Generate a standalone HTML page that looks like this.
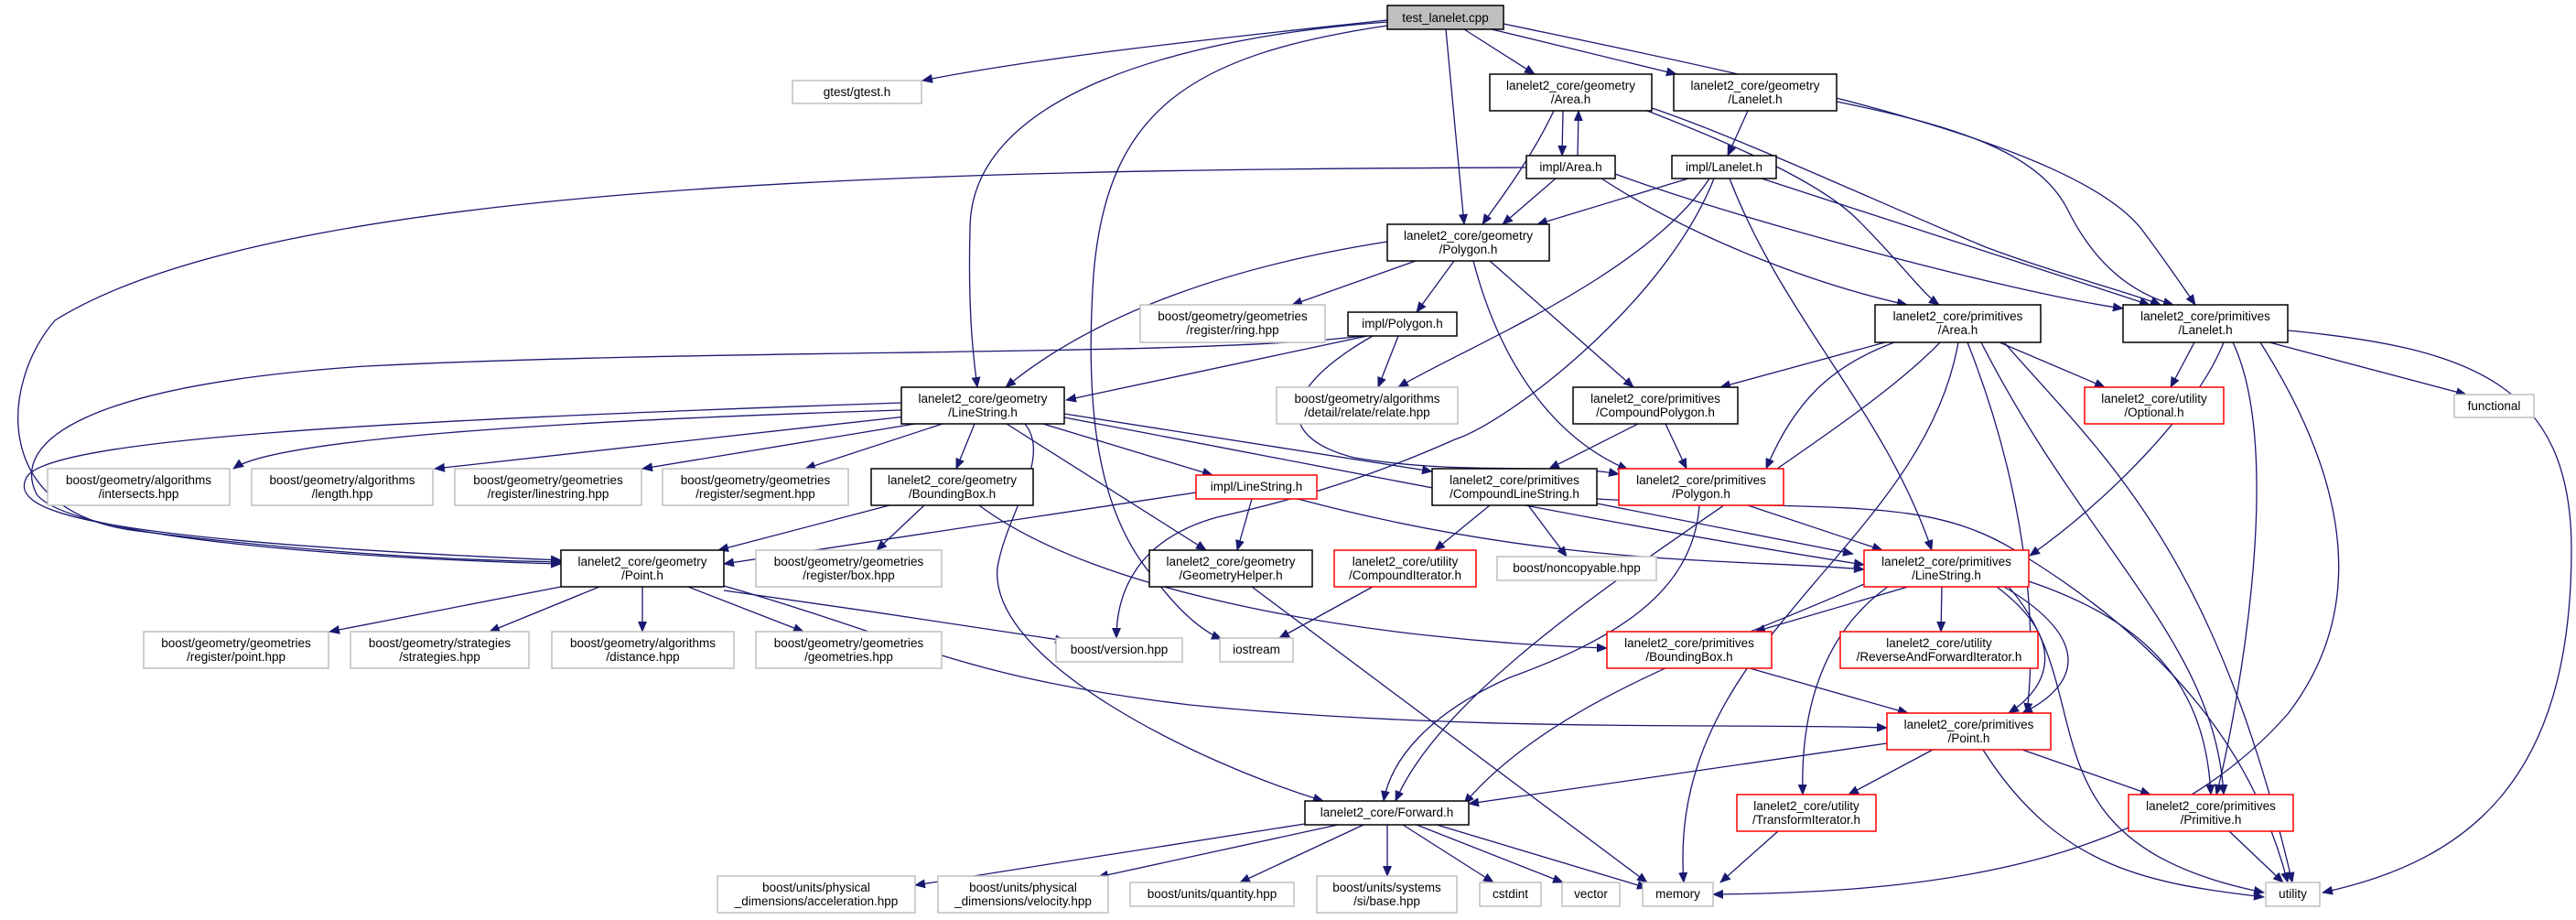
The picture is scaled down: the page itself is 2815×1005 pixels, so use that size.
<!DOCTYPE html>
<html><head><meta charset="utf-8"><style>
html,body{margin:0;padding:0;background:#fff;}
svg{display:block;}
text{font-family:"Liberation Sans",sans-serif;font-size:13.5px;fill:#000;text-anchor:middle;}
.b{fill:#fff;stroke:#000;stroke-width:1.5;}
.g{fill:#fff;stroke:#bfbfbf;stroke-width:1.5;}
.r{fill:#fff;stroke:#ff0000;stroke-width:1.5;}
path{fill:none;stroke:#191970;stroke-width:1.3;marker-end:url(#a);}
</style></head><body>
<svg width="2815" height="1005" viewBox="0 0 2815 1005" xmlns="http://www.w3.org/2000/svg">
<defs><marker id="a" markerWidth="12" markerHeight="10" refX="11" refY="5" orient="auto" markerUnits="userSpaceOnUse"><polygon points="0,0 12,5 0,10" fill="#191970"/></marker></defs>

<!-- edges -->
<path d="M1516,22 C1350,40 1150,60 1008,88"/>
<path d="M1516,24 C1300,40 1060,100 1060,250 C1058,330 1062,380 1068,423"/>
<path d="M1516,28 C1300,60 1210,120 1195,300 C1185,450 1200,560 1260,630 C1290,670 1315,690 1335,698"/>
<path d="M1580,32 L1600,245"/>
<path d="M1600,32 L1677,81"/>
<path d="M1630,32 L1832,81"/>
<path d="M1643,26 C1900,80 2260,150 2340,250 C2370,290 2390,320 2399,333"/>
<path d="M1708,121 L1707,170"/>
<path d="M1724,170 L1725,121"/>
<path d="M1698,121 C1670,180 1630,230 1620,245"/>
<path d="M1800,121 C1900,160 1990,200 2030,240 C2080,290 2100,320 2119,333"/>
<path d="M1805,118 C1900,150 2050,220 2170,270 C2250,300 2330,320 2361,333"/>
<path d="M1910,121 L1888,170"/>
<path d="M2007,111 C2150,140 2230,170 2260,230 C2290,290 2330,320 2375,333"/>
<path d="M1668,183 C1000,185 300,200 60,350 C0,420 -10,560 150,580 C350,605 500,612 613,614"/>
<path d="M1700,195 L1642,245"/>
<path d="M1750,195 C1850,260 1980,310 2084,333"/>
<path d="M1765,190 C1900,240 2200,320 2320,337"/>
<path d="M1845,195 L1680,245"/>
<path d="M1868,195 C1800,300 1600,380 1528,423"/>
<path d="M1873,195 C1820,330 1650,460 1590,480 C1500,520 1420,545 1330,565 C1240,590 1220,650 1220,697"/>
<path d="M1890,195 C1950,350 2060,450 2111,601"/>
<path d="M1925,195 L2349,333"/>
<path d="M1547,285 L1412,333"/>
<path d="M1589,285 L1548,341"/>
<path d="M1516,264 C1350,290 1200,340 1099,423"/>
<path d="M1628,285 L1785,423"/>
<path d="M1610,285 C1640,400 1700,480 1779,513"/>
<path d="M1494,367 L1165,437"/>
<path d="M1528,367 L1506,423"/>
<path d="M1490,367 C1300,390 800,380 400,400 C100,420 10,480 40,540 C80,590 400,610 613,616"/>
<path d="M1500,367 C1390,430 1400,480 1480,500 C1600,520 1700,505 1769,518"/>
<path d="M985,448 C600,460 300,480 255,512"/>
<path d="M990,455 L475,512"/>
<path d="M1000,463 L702,512"/>
<path d="M1030,463 L880,512"/>
<path d="M1065,463 L1045,512"/>
<path d="M985,440 C400,460 60,480 30,520 C5,560 100,590 613,612"/>
<path d="M1140,463 L1325,519"/>
<path d="M1100,463 L1318,601"/>
<path d="M1120,463 C1150,500 1100,560 1090,620 C1080,720 1300,830 1446,875"/>
<path d="M1163,452 L1565,515"/>
<path d="M1163,456 C1500,520 1800,580 2037,617"/>
<path d="M972,552 L785,601"/>
<path d="M1010,552 L958,601"/>
<path d="M1070,552 C1200,650 1500,700 1756,708"/>
<path d="M1307,538 L791,616"/>
<path d="M1368,545 L1352,601"/>
<path d="M1418,545 C1700,620 1900,610 2037,622"/>
<path d="M1628,552 L1568,601"/>
<path d="M1670,552 L1712,608"/>
<path d="M1745,550 L2025,605"/>
<path d="M1745,545 C2000,560 2100,540 2200,600 C2400,720 2470,850 2500,964"/>
<path d="M1790,463 L1693,512"/>
<path d="M1820,463 L1843,512"/>
<path d="M1910,552 L2057,601"/>
<path d="M1857,552 C1850,650 1760,700 1650,740 C1560,780 1520,830 1512,875"/>
<path d="M2060,374 L1880,423"/>
<path d="M2185,374 L2300,423"/>
<path d="M2070,374 C2000,400 1960,440 1930,512"/>
<path d="M2120,374 C2000,500 1600,700 1525,875"/>
<path d="M2140,374 C2100,600 1820,700 1840,964"/>
<path d="M2150,374 C2200,500 2230,650 2215,779"/>
<path d="M2165,374 C2280,600 2420,700 2430,868"/>
<path d="M2190,374 C2300,500 2420,600 2505,964"/>
<path d="M2398,374 L2372,423"/>
<path d="M2480,374 L2695,431"/>
<path d="M2500,361 C2700,380 2810,420 2810,600 C2810,850 2700,940 2538,975"/>
<path d="M2470,374 C2550,500 2600,650 2500,780 C2350,950 2100,975 1872,977"/>
<path d="M2430,374 C2400,450 2300,550 2218,607"/>
<path d="M2440,374 C2500,500 2440,800 2422,868"/>
<path d="M613,641 L360,690"/>
<path d="M655,641 L535,690"/>
<path d="M702,641 L702,690"/>
<path d="M752,641 L878,690"/>
<path d="M791,645 C900,660 1100,690 1164,700"/>
<path d="M791,640 C1000,700 1050,740 1300,770 C1600,800 1900,790 2062,795"/>
<path d="M1368,641 L1800,964"/>
<path d="M1500,641 L1398,697"/>
<path d="M2085,641 L1918,690"/>
<path d="M2122,641 L2121,690"/>
<path d="M2182,641 C2260,700 2240,750 2195,779"/>
<path d="M2190,641 C2290,700 2270,750 2210,779"/>
<path d="M2063,641 C1980,700 1968,800 1970,868"/>
<path d="M2217,635 C2350,680 2410,750 2416,868"/>
<path d="M2195,641 C2300,760 2200,920 2474,975"/>
<path d="M2037,638 C1900,700 1700,760 1600,878"/>
<path d="M1912,730 L2085,779"/>
<path d="M2062,812 L1605,878"/>
<path d="M2112,819 L2020,868"/>
<path d="M2210,819 L2350,868"/>
<path d="M2167,819 C2250,950 2350,965 2474,980"/>
<path d="M1943,908 L1880,964"/>
<path d="M2436,908 L2495,964"/>
<path d="M1426,900 L1000,967"/>
<path d="M1462,901 L1200,958"/>
<path d="M1490,901 L1355,964"/>
<path d="M1516,901 L1516,957"/>
<path d="M1533,901 L1632,964"/>
<path d="M1548,901 L1708,964"/>
<path d="M1570,901 L1800,970"/>

<!-- nodes -->
<rect x="1516" y="6" width="127" height="26" fill="#bfbfbf" stroke="#000" stroke-width="1.5"/><text x="1579.5" y="24">test_lanelet.cpp</text>
<rect class="g" x="866" y="88" width="141" height="25"/><text x="936.5" y="105">gtest/gtest.h</text>
<rect class="b" x="1628" y="81" width="177" height="40"/><text x="1716.5" y="98">lanelet2_core/geometry</text><text x="1716.5" y="113">/Area.h</text>
<rect class="b" x="1829" y="81" width="178" height="40"/><text x="1918" y="98">lanelet2_core/geometry</text><text x="1918" y="113">/Lanelet.h</text>
<rect class="b" x="1668" y="170" width="97" height="25"/><text x="1716.5" y="187">impl/Area.h</text>
<rect class="b" x="1827" y="170" width="114" height="25"/><text x="1884" y="187">impl/Lanelet.h</text>
<rect class="b" x="1516" y="245" width="177" height="40"/><text x="1604.5" y="262">lanelet2_core/geometry</text><text x="1604.5" y="277">/Polygon.h</text>
<rect class="g" x="1246" y="333" width="202" height="41"/><text x="1347" y="350">boost/geometry/geometries</text><text x="1347" y="365">/register/ring.hpp</text>
<rect class="b" x="1473" y="341" width="119" height="26"/><text x="1532.5" y="358">impl/Polygon.h</text>
<rect class="b" x="2049" y="333" width="181" height="41"/><text x="2139.5" y="350">lanelet2_core/primitives</text><text x="2139.5" y="365">/Area.h</text>
<rect class="b" x="2320" y="333" width="180" height="41"/><text x="2410" y="350">lanelet2_core/primitives</text><text x="2410" y="365">/Lanelet.h</text>
<rect class="b" x="985" y="423" width="178" height="40"/><text x="1074" y="440">lanelet2_core/geometry</text><text x="1074" y="455">/LineString.h</text>
<rect class="g" x="1395" y="423" width="198" height="40"/><text x="1494" y="440">boost/geometry/algorithms</text><text x="1494" y="455">/detail/relate/relate.hpp</text>
<rect class="b" x="1719" y="423" width="180" height="40"/><text x="1809" y="440">lanelet2_core/primitives</text><text x="1809" y="455">/CompoundPolygon.h</text>
<rect class="r" x="2278" y="423" width="152" height="40"/><text x="2354" y="440">lanelet2_core/utility</text><text x="2354" y="455">/Optional.h</text>
<rect class="g" x="2682" y="431" width="87" height="25"/><text x="2725.5" y="448">functional</text>
<rect class="g" x="52" y="512" width="199" height="40"/><text x="151.5" y="529">boost/geometry/algorithms</text><text x="151.5" y="544">/intersects.hpp</text>
<rect class="g" x="275" y="512" width="198" height="40"/><text x="374" y="529">boost/geometry/algorithms</text><text x="374" y="544">/length.hpp</text>
<rect class="g" x="497" y="512" width="204" height="40"/><text x="599" y="529">boost/geometry/geometries</text><text x="599" y="544">/register/linestring.hpp</text>
<rect class="g" x="724" y="512" width="203" height="40"/><text x="825.5" y="529">boost/geometry/geometries</text><text x="825.5" y="544">/register/segment.hpp</text>
<rect class="b" x="952" y="512" width="177" height="40"/><text x="1040.5" y="529">lanelet2_core/geometry</text><text x="1040.5" y="544">/BoundingBox.h</text>
<rect class="r" x="1307" y="519" width="132" height="26"/><text x="1373" y="536">impl/LineString.h</text>
<rect class="b" x="1565" y="512" width="180" height="40"/><text x="1655" y="529">lanelet2_core/primitives</text><text x="1655" y="544">/CompoundLineString.h</text>
<rect class="r" x="1769" y="512" width="180" height="40"/><text x="1859" y="529">lanelet2_core/primitives</text><text x="1859" y="544">/Polygon.h</text>
<rect class="b" x="613" y="601" width="178" height="40"/><text x="702" y="618">lanelet2_core/geometry</text><text x="702" y="633">/Point.h</text>
<rect class="g" x="826" y="601" width="203" height="40"/><text x="927.5" y="618">boost/geometry/geometries</text><text x="927.5" y="633">/register/box.hpp</text>
<rect class="b" x="1256" y="601" width="178" height="40"/><text x="1345" y="618">lanelet2_core/geometry</text><text x="1345" y="633">/GeometryHelper.h</text>
<rect class="r" x="1458" y="601" width="155" height="40"/><text x="1535.5" y="618">lanelet2_core/utility</text><text x="1535.5" y="633">/CompoundIterator.h</text>
<rect class="g" x="1636" y="608" width="174" height="26"/><text x="1723" y="625">boost/noncopyable.hpp</text>
<rect class="r" x="2037" y="601" width="180" height="40"/><text x="2127" y="618">lanelet2_core/primitives</text><text x="2127" y="633">/LineString.h</text>
<rect class="g" x="157" y="690" width="202" height="40"/><text x="258" y="707">boost/geometry/geometries</text><text x="258" y="722">/register/point.hpp</text>
<rect class="g" x="383" y="690" width="195" height="40"/><text x="480.5" y="707">boost/geometry/strategies</text><text x="480.5" y="722">/strategies.hpp</text>
<rect class="g" x="603" y="690" width="199" height="40"/><text x="702.5" y="707">boost/geometry/algorithms</text><text x="702.5" y="722">/distance.hpp</text>
<rect class="g" x="826" y="690" width="203" height="40"/><text x="927.5" y="707">boost/geometry/geometries</text><text x="927.5" y="722">/geometries.hpp</text>
<rect class="g" x="1154" y="697" width="138" height="26"/><text x="1223" y="714">boost/version.hpp</text>
<rect class="g" x="1333" y="697" width="80" height="26"/><text x="1373" y="714">iostream</text>
<rect class="r" x="1756" y="690" width="180" height="40"/><text x="1846" y="707">lanelet2_core/primitives</text><text x="1846" y="722">/BoundingBox.h</text>
<rect class="r" x="2011" y="690" width="216" height="40"/><text x="2119" y="707">lanelet2_core/utility</text><text x="2119" y="722">/ReverseAndForwardIterator.h</text>
<rect class="r" x="2062" y="779" width="179" height="40"/><text x="2151.5" y="796">lanelet2_core/primitives</text><text x="2151.5" y="811">/Point.h</text>
<rect class="b" x="1426" y="875" width="179" height="26"/><text x="1515.5" y="892">lanelet2_core/Forward.h</text>
<rect class="r" x="1898" y="868" width="152" height="40"/><text x="1974" y="885">lanelet2_core/utility</text><text x="1974" y="900">/TransformIterator.h</text>
<rect class="r" x="2326" y="868" width="180" height="40"/><text x="2416" y="885">lanelet2_core/primitives</text><text x="2416" y="900">/Primitive.h</text>
<rect class="g" x="784" y="957" width="216" height="40"/><text x="892" y="974">boost/units/physical</text><text x="892" y="989">_dimensions/acceleration.hpp</text>
<rect class="g" x="1025" y="957" width="186" height="40"/><text x="1118" y="974">boost/units/physical</text><text x="1118" y="989">_dimensions/velocity.hpp</text>
<rect class="g" x="1235" y="964" width="179" height="26"/><text x="1324.5" y="981">boost/units/quantity.hpp</text>
<rect class="g" x="1439" y="957" width="153" height="40"/><text x="1515.5" y="974">boost/units/systems</text><text x="1515.5" y="989">/si/base.hpp</text>
<rect class="g" x="1617" y="964" width="67" height="26"/><text x="1650.5" y="981">cstdint</text>
<rect class="g" x="1707" y="964" width="63" height="26"/><text x="1738.5" y="981">vector</text>
<rect class="g" x="1795" y="964" width="77" height="26"/><text x="1833.5" y="981">memory</text>
<rect class="g" x="2476" y="964" width="59" height="26"/><text x="2505.5" y="981">utility</text>
</svg>
</body></html>
